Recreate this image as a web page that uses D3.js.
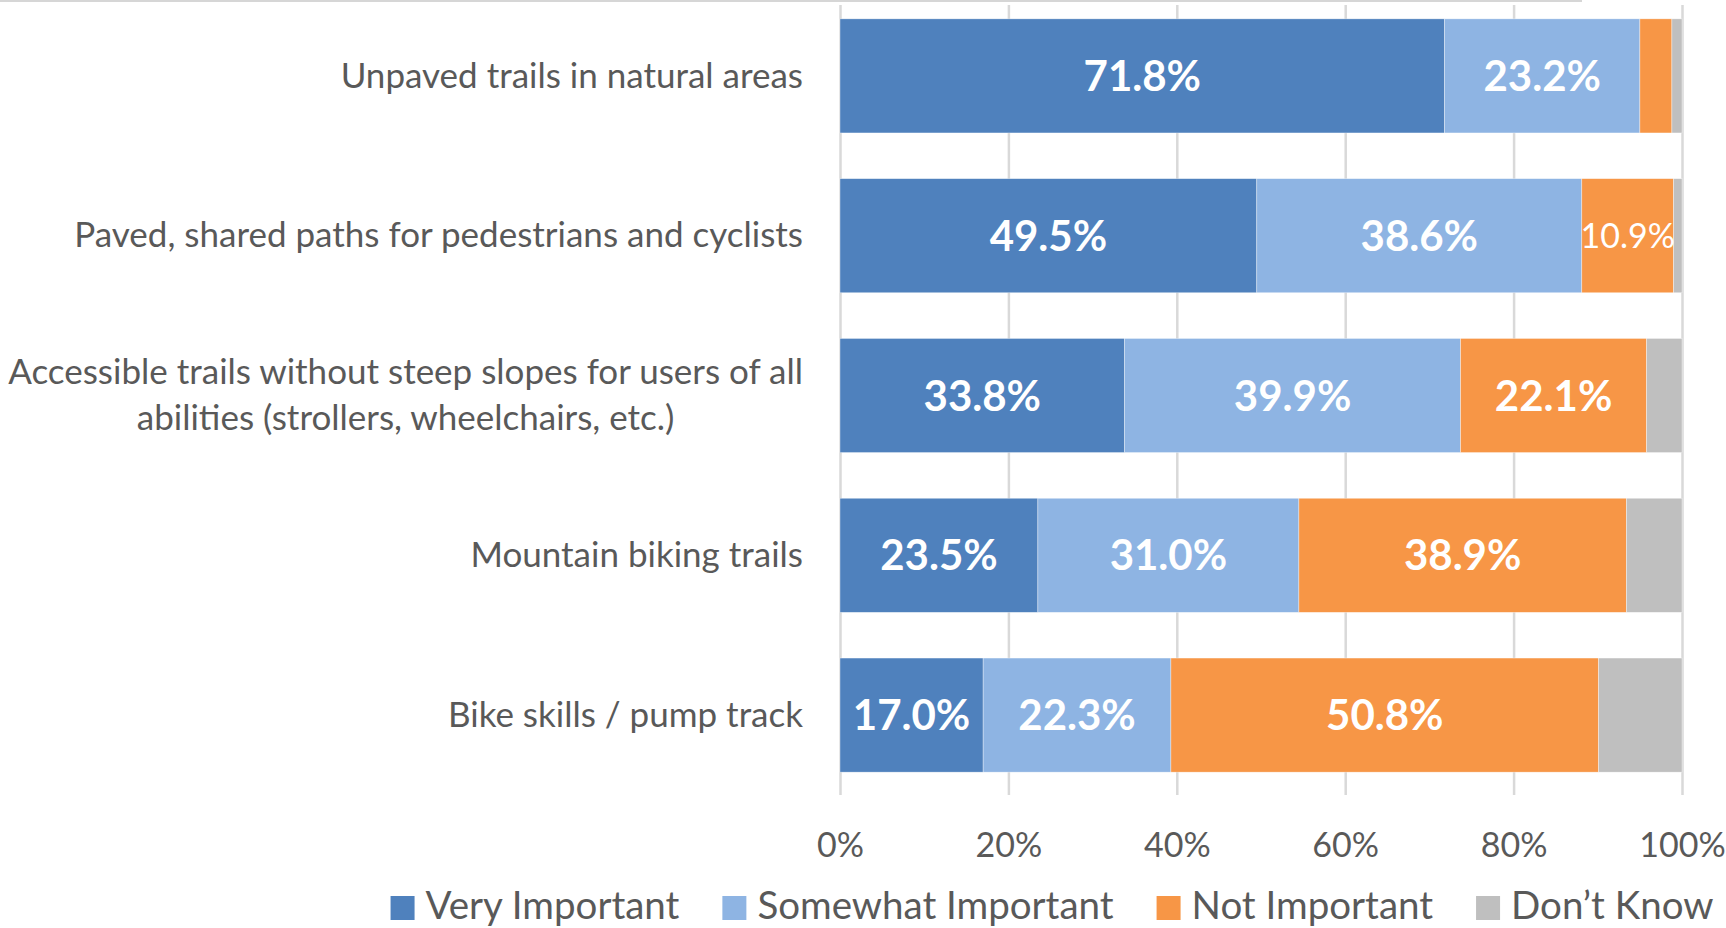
<!DOCTYPE html>
<html>
<head>
<meta charset="utf-8">
<script src="https://cdn.jsdelivr.net/npm/d3@7"></script>
<style>
  body { margin: 0; background: #fff; }
  text { font-family: Lato, "Open Sans", sans-serif; }
</style>
</head>
<body>
<svg class="chart" width="1726" height="928"></svg>
<script>
  // survey values, percent of respondents
  var categories = [
    "Unpaved trails in natural areas",
    "Paved, shared paths for pedestrians and cyclists",
    "Accessible trails without steep slopes for users of all\nabilities (strollers, wheelchairs, etc.)",
    "Mountain biking trails",
    "Bike skills / pump track"
  ]
  var seriesNames = ["Very Important", "Somewhat Important", "Not Important", "Don’t Know"]
  var veryImportant = [71.8, 49.5, 33.8, 23.5, 17.0]
  var somewhatImportant = [23.2, 38.6, 39.9, 31.0, 22.3]
  var notImportant = [3.8, 10.9, 22.1, 38.9, 50.8]
  var dontKnow = [1.2, 1.0, 4.2, 6.6, 9.9]
  var xTicks = [0, 20, 40, 60, 80, 100]

  var colors = ["#4f81bd", "#8eb4e3", "#f79646", "#bfbfbf"]
  var textColor = "#595959"

  var width = 1726
  var height = 928
  var svg = d3.select("svg.chart")

  // table for d3.stack
  var rows = categories.map((c, i) => ({
    category: c,
    "Very Important": veryImportant[i],
    "Somewhat Important": somewhatImportant[i],
    "Not Important": notImportant[i],
    "Don’t Know": dontKnow[i]
  }))
  var stacked = d3.stack().keys(seriesNames)(rows)

  var xScale = d3.scaleLinear().domain([0, 100]).range([840, 1682])
  var yScale = d3.scaleBand().domain(categories).range([-4, 795]).paddingInner(0.286).paddingOuter(0.143)
  var colorScale = d3.scaleOrdinal().domain(seriesNames).range(colors)

  // thin rule across the very top
  svg.append("line")
    .attr("x1", 0).attr("x2", 1582)
    .attr("y1", 1).attr("y2", 1)
    .attr("stroke", "#c8c8c8")
    .attr("stroke-width", 1.5)

  // vertical gridlines
  var grid = d3.axisBottom(xScale).tickValues(xTicks).tickFormat("").tickSize(-790)
  svg.append("g")
    .attr("class", "x gridlines")
    .attr("transform", "translate(0,795)")
    .call(grid)
    .call(g => g.select(".domain").remove())
    .call(g => g.selectAll("line").attr("stroke", "#d9d9d9").attr("stroke-width", 2.5))

  // bars
  var layers = svg.append("g").selectAll("g")
    .data(stacked)
    .join("g")
    .attr("fill", d => colorScale(d.key))

  layers.selectAll("rect")
    .data(d => d)
    .join("rect")
    .attr("x", d => xScale(d[0]))
    .attr("y", d => yScale(d.data.category))
    .attr("width", d => xScale(d[1]) - xScale(d[0]))
    .attr("height", yScale.bandwidth())
    .attr("stroke", "#fff")
    .attr("stroke-width", 0.6)
    .attr("stroke-opacity", 0.6)

  // value labels
  var labelLayer = svg.append("g")
  stacked.forEach(layer => {
    if (layer.key == "Don’t Know") return
    layer.forEach(d => {
      var v = d[1] - d[0]
      if (v < 10) return
      var segW = xScale(d[1]) - xScale(d[0])
      var cx = (xScale(d[0]) + xScale(d[1])) / 2
      var cy = yScale(d.data.category) + yScale.bandwidth() / 2
      var t = labelLayer.append("text")
        .attr("x", cx)
        .attr("y", cy)
        .attr("text-anchor", "middle")
        .attr("fill", "#fff")
        .attr("font-size", 42)
        .attr("font-weight", "bold")
        .attr("dy", "0.36em")
        .text(v.toFixed(1) + "%")
      // too narrow for the bold label, fall back to a smaller regular one
      if (t.node().getComputedTextLength() > segW - 6) {
        t.attr("font-weight", "normal").attr("font-size", 34)
      }
    })
  })

  // category labels (right aligned, wrapped lines centred on each other)
  var labelRight = 803
  categories.forEach(c => {
    var lines = c.split("\n")
    var cy = yScale(c) + yScale.bandwidth() / 2
    var g = svg.append("g")
    var lineHeight = 46
    var texts = lines.map((l, i) => g.append("text")
      .attr("font-size", 35)
      .attr("fill", textColor)
      .attr("y", cy - 1 + (i - (lines.length - 1) / 2) * lineHeight)
      .attr("dy", "0.36em")
      .text(l))
    var widest = d3.max(texts, t => t.node().getComputedTextLength())
    texts.forEach(t => t.attr("text-anchor", "middle").attr("x", labelRight - widest / 2))
  })

  // x axis tick labels
  var bottomAxis = d3.axisBottom(xScale).tickValues(xTicks).tickFormat(d => d + "%").tickSize(0).tickPadding(0)
  svg.append("g")
    .attr("class", "x axis")
    .attr("transform", "translate(0,857)")
    .call(bottomAxis)
    .call(g => g.select(".domain").remove())
    .call(g => g.selectAll("text")
      .attr("font-size", 34)
      .attr("fill", textColor)
      .attr("dy", 0)
      .attr("y", 0)
      .style("font-family", "Lato"))

  // legend, kept just inside the bottom edge
  var legend = svg.append("g")
  var lx = 0
  var itemGap = 43
  seriesNames.forEach(name => {
    var item = legend.append("g").attr("transform", "translate(" + lx + ",0)")
    item.append("rect")
      .attr("x", 0).attr("y", 896)
      .attr("width", 24).attr("height", 24)
      .attr("fill", colorScale(name))
    var t = item.append("text")
      .attr("x", 35).attr("y", 919)
      .attr("font-size", 38.5)
      .attr("fill", textColor)
      .text(name)
    lx += 35 + t.node().getComputedTextLength() + itemGap
  })
  var legendWidth = lx - itemGap
  legend.attr("transform", "translate(" + (1052 - legendWidth / 2) + ",0)")
</script>
</body>
</html>
